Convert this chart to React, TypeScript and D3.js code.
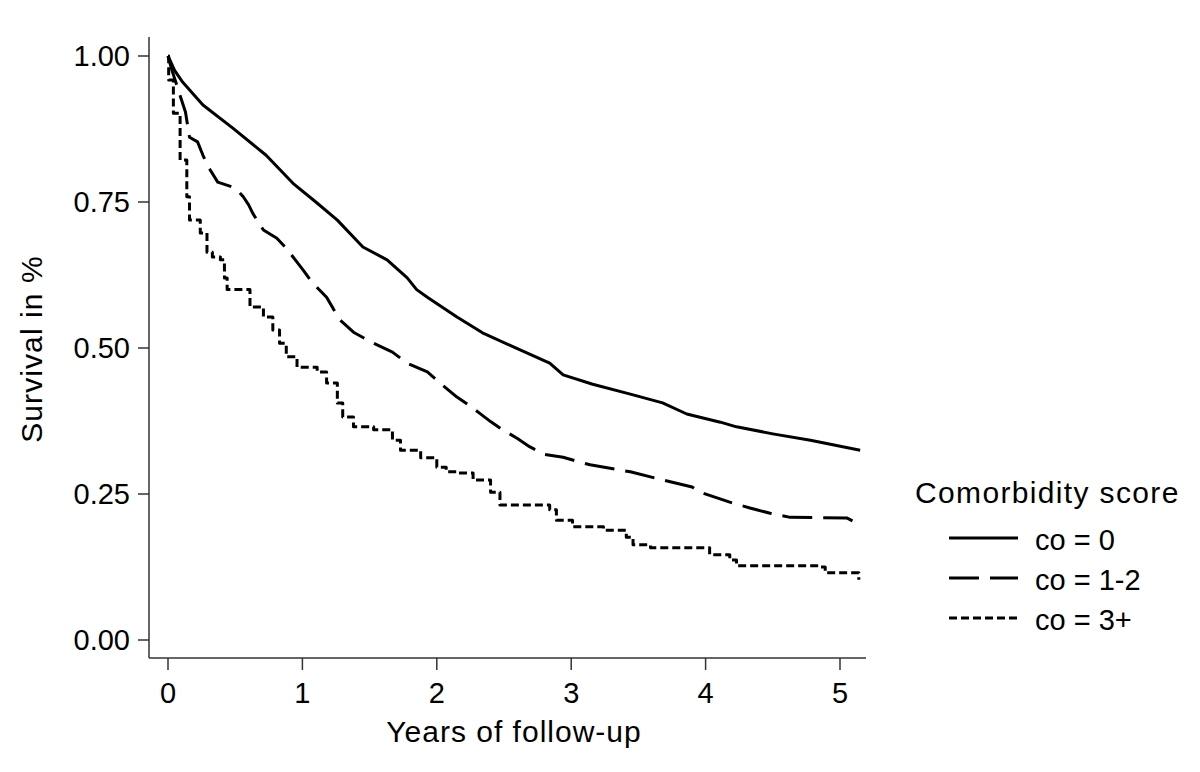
import React from "react";
import * as d3 from "d3";

const yTicks = [0, 0.25, 0.5, 0.75, 1.0];
const xTicks = [0, 1, 2, 3, 4, 5];

const co0Time = [0, 0.05, 0.11, 0.26, 0.48, 0.73, 0.93, 1.1, 1.26, 1.45, 1.63, 1.78, 1.85, 1.935, 2.15, 2.34, 2.57, 2.84, 2.94, 3.16, 3.44, 3.68, 3.86, 4.11, 4.23, 4.5, 4.78, 5.15];
const co0Surv = [1.0, 0.975, 0.955, 0.916, 0.877, 0.83, 0.782, 0.75, 0.719, 0.673, 0.651, 0.62, 0.6, 0.586, 0.553, 0.526, 0.502, 0.474, 0.454, 0.438, 0.421, 0.406, 0.387, 0.373, 0.365, 0.353, 0.342, 0.325];

const co12Time = [0, 0.03, 0.07, 0.1, 0.13, 0.16, 0.22, 0.26, 0.3, 0.37, 0.5, 0.56, 0.6, 0.63, 0.67, 0.71, 0.81, 0.88, 0.96, 1.01, 1.06, 1.12, 1.18, 1.23, 1.28, 1.38, 1.53, 1.67, 1.78, 1.93, 2.04, 2.15, 2.24, 2.32, 2.4, 2.49, 2.6, 2.69, 2.8, 2.94, 3.09, 3.14, 3.44, 3.68, 3.9, 3.96, 4.18, 4.33, 4.48, 4.63, 5.05, 5.1, 5.16];
const co12Surv = [1.0, 0.975, 0.947, 0.925, 0.904, 0.861, 0.853, 0.83, 0.81, 0.784, 0.774, 0.759, 0.745, 0.731, 0.716, 0.702, 0.688, 0.671, 0.647, 0.632, 0.616, 0.601, 0.587, 0.567, 0.548, 0.527, 0.508, 0.493, 0.474, 0.459, 0.437, 0.416, 0.402, 0.388, 0.374, 0.36, 0.345, 0.331, 0.318, 0.313, 0.303, 0.3, 0.288, 0.274, 0.262, 0.253, 0.236, 0.226, 0.217, 0.21, 0.209, 0.203, 0.195];

const co3Time = [0, 0.005, 0.04, 0.09, 0.14, 0.16, 0.24, 0.29, 0.33, 0.39, 0.42, 0.44, 0.56, 0.61, 0.71, 0.78, 0.83, 0.88, 0.96, 1.11, 1.18, 1.26, 1.3, 1.38, 1.53, 1.67, 1.73, 1.88, 2.0, 2.07, 2.15, 2.27, 2.4, 2.47, 2.84, 2.89, 3.01, 3.24, 3.41, 3.46, 3.59, 3.98, 4.03, 4.18, 4.23, 4.85, 4.89, 5.13, 5.14];
const co3Surv = [1.0, 0.959, 0.902, 0.822, 0.759, 0.719, 0.697, 0.664, 0.656, 0.651, 0.62, 0.6, 0.6, 0.57, 0.553, 0.531, 0.508, 0.485, 0.467, 0.459, 0.44, 0.406, 0.382, 0.365, 0.36, 0.342, 0.325, 0.312, 0.296, 0.288, 0.286, 0.274, 0.253, 0.231, 0.223, 0.205, 0.194, 0.188, 0.176, 0.163, 0.158, 0.158, 0.146, 0.137, 0.127, 0.125, 0.115, 0.115, 0.103];

const seriesNames = ["co = 0", "co = 1-2", "co = 3+"];
const legendTitle = "Comorbidity score";
const xTitle = "Years of follow-up";
const yTitle = "Survival in %";

export default function App() {
  const x = d3.scaleLinear().domain([0, 5]).range([168, 840]);
  const y = d3.scaleLinear().domain([0, 1]).range([640, 56]);
  const font = "'Liberation Sans', Arial, Helvetica, sans-serif";

  const linear = d3.line<[number, number]>().x((d) => x(d[0])).y((d) => y(d[1])).curve(d3.curveLinear);
  const step = d3.line<[number, number]>().x((d) => x(d[0])).y((d) => y(d[1])).curve(d3.curveStepAfter);

  const zip = (t: number[], s: number[]) => t.map((v, i) => [v, s[i]] as [number, number]);

  const series = [
    { d: linear(zip(co0Time, co0Surv)), dash: "none" },
    { d: linear(zip(co12Time, co12Surv)), dash: "30,11" },
    { d: step(zip(co3Time, co3Surv)), dash: "8,4" },
  ];

  const axisColor = "#333";
  const axisX0 = 149;
  const axisY0 = 658;

  return (
    <svg width={1200} height={772} style={{ position: "absolute", left: 0, top: 0, background: "#fff" }} fontFamily={font}>
      <rect x={0} y={0} width={1200} height={772} fill="#fff" />
      {/* Y axis */}
      <line x1={axisX0} x2={axisX0} y1={37} y2={axisY0} stroke={axisColor} strokeWidth={1.5} />
      {yTicks.map((t) => (
        <g key={t}>
          <line x1={138} x2={axisX0} y1={y(t)} y2={y(t)} stroke={axisColor} strokeWidth={1.5} />
          <text x={130} y={y(t) + 10} textAnchor="end" fontSize={29} fill="#000">
            {d3.format(".2f")(t)}
          </text>
        </g>
      ))}
      {/* X axis */}
      <line x1={axisX0} x2={866} y1={axisY0} y2={axisY0} stroke={axisColor} strokeWidth={1.5} />
      {xTicks.map((t) => (
        <g key={t}>
          <line x1={x(t)} x2={x(t)} y1={axisY0} y2={670} stroke={axisColor} strokeWidth={1.5} />
          <text x={x(t)} y={703} textAnchor="middle" fontSize={29} fill="#000">
            {t}
          </text>
        </g>
      ))}
      <text x={514} y={742} textAnchor="middle" fontSize={30} letterSpacing={1} fill="#000">
        {xTitle}
      </text>
      <text transform="translate(42,349) rotate(-90)" textAnchor="middle" fontSize={30} letterSpacing={1.1} fill="#000">
        {yTitle}
      </text>
      {/* curves */}
      {series.map((s, i) => (
        <path key={i} d={s.d || ""} fill="none" stroke="#000" strokeWidth={3} strokeDasharray={s.dash} strokeLinejoin="round" />
      ))}
      {/* legend */}
      <text x={915} y={503} fontSize={30} letterSpacing={1.35} fill="#000">
        {legendTitle}
      </text>
      {seriesNames.map((n, i) => (
        <g key={n}>
          <line x1={949} x2={1018} y1={538 + i * 40} y2={538 + i * 40} stroke="#000" strokeWidth={3} strokeDasharray={series[i].dash} />
          <text x={1035} y={550 + i * 40} fontSize={29} fill="#000">
            {n}
          </text>
        </g>
      ))}
    </svg>
  );
}
